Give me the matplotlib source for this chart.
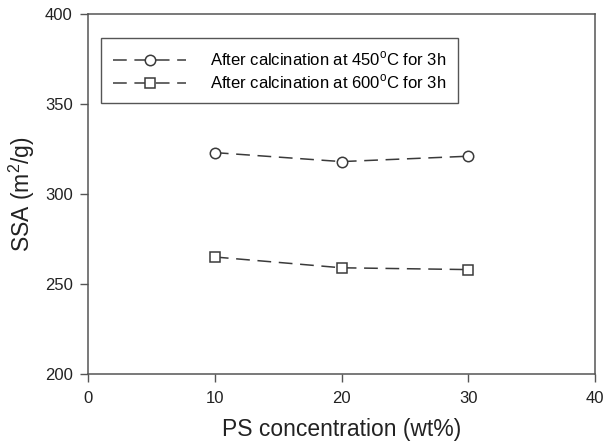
import matplotlib.pyplot as plt

plt.rcParams['font.family'] = ['Liberation Sans', 'DejaVu Sans']
plt.rcParams['mathtext.fontset'] = 'custom'
plt.rcParams['mathtext.rm'] = 'Liberation Sans'

# datos
ps_conc = [10, 20, 30]
ssa_450 = [323, 318, 321]
ssa_600 = [265, 259, 258]
xticks = [0, 10, 20, 30, 40]
yticks = [200, 250, 300, 350, 400]

cor = '#3a3a3a'

fig = plt.figure(figsize=(6.13, 4.45), dpi=100)
ax = fig.add_axes([0.1436, 0.1596, 0.8274, 0.8089])

ax.plot(ps_conc, ssa_450, color=cor, lw=1.1, dashes=(9, 5), marker='o', ms=7.5,
        mfc='white', mec=cor, mew=1.1,
        label='After calcination at 450$^\\mathregular{o}$C for 3h')
ax.plot(ps_conc, ssa_600, color=cor, lw=1.1, dashes=(9, 5), marker='s', ms=7.5,
        mfc='white', mec=cor, mew=1.1,
        label='After calcination at 600$^\\mathregular{o}$C for 3h')

ax.set_xlim(0, 40)
ax.set_ylim(200, 400)
ax.set_xticks(xticks)
ax.set_yticks(yticks)
ax.tick_params(direction='out', length=6, width=1, colors='#555555',
               labelcolor='#222222', labelsize=12, pad=6)
ax.tick_params(axis='y', pad=5)
for s in ax.spines.values():
    s.set_color('#555555')
    s.set_linewidth(1.1)

ax.set_xlabel('PS concentration (wt%)', fontsize=16.5, color='#222222', labelpad=9)
ax.set_ylabel('SSA (m$^\\mathregular{2}$/g)', fontsize=16.5, color='#222222', labelpad=6)

leg = ax.legend(loc='upper left', bbox_to_anchor=(0.026, 0.933), borderaxespad=0,
                fontsize=12, handlelength=4.4, handletextpad=1.4, fancybox=False,
                edgecolor='#555555', framealpha=1, borderpad=0.7, labelspacing=0.25)
leg.get_frame().set_linewidth(1.0)

fig.savefig('out.png', dpi=100)
